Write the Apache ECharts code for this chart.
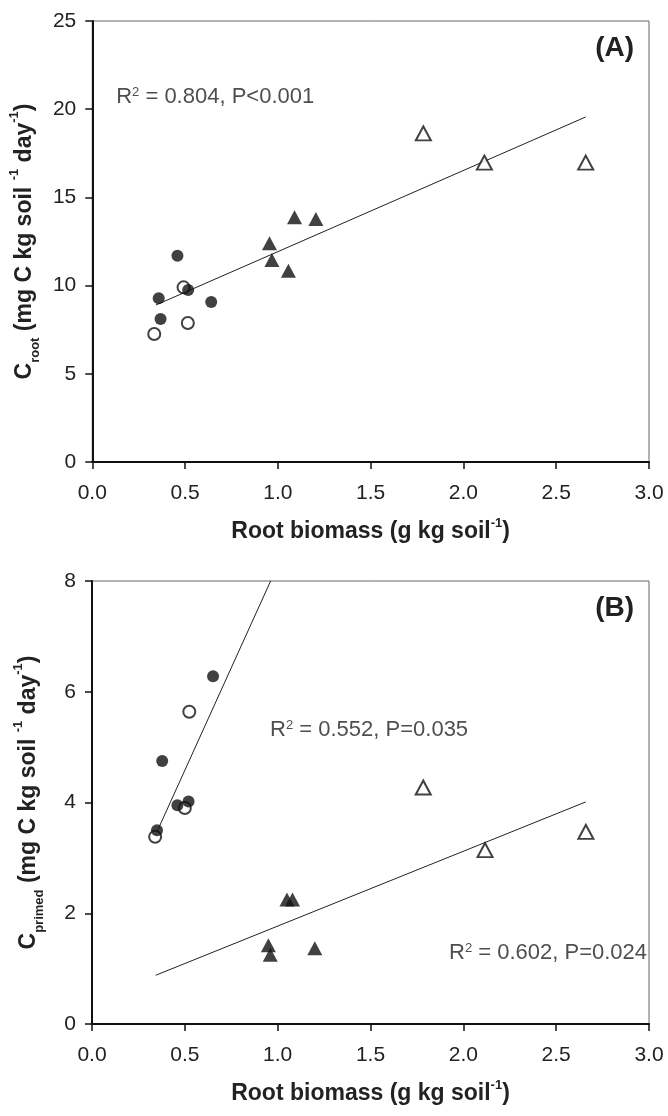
<!DOCTYPE html>
<html>
<head>
<meta charset="utf-8">
<script src="https://cdn.jsdelivr.net/npm/echarts@6/dist/echarts.min.js"></script>
<style>
body{margin:0;background:#fff}
#main{width:668px;height:1116px}
</style>
</head>
<body>
<div id="main"></div>
<script>
// ---- panel A : C root ----
var aOpenCircleX=[0.334,0.492,0.515], aOpenCircleY=[7.26,9.90,7.88];
var aFillCircleX=[0.358,0.368,0.459,0.517,0.641], aFillCircleY=[9.28,8.11,11.69,9.75,9.07];
var aFillTriX=[0.955,0.968,1.057,1.090,1.205], aFillTriY=[12.40,11.45,10.84,13.87,13.78];
var aOpenTriX=[1.784,2.113,2.659], aOpenTriY=[18.63,16.97,16.97];
var aFitX=[0.343,2.659], aFitY=[8.90,19.56];
// ---- panel B : C primed ----
var bOpenCircleX=[0.340,0.500,0.524], bOpenCircleY=[3.38,3.90,5.64];
var bFillCircleX=[0.350,0.378,0.460,0.520,0.652], bFillCircleY=[3.50,4.75,3.95,4.02,6.28];
var bFillTriX=[0.950,0.960,1.050,1.080,1.200], bFillTriY=[1.42,1.25,2.25,2.25,1.37];
var bOpenTriX=[1.784,2.117,2.660], bOpenTriY=[4.27,3.14,3.47];
var bFit1X=[0.343,0.962], bFit1Y=[3.42,8.00];
var bFit2X=[0.343,2.659], bFit2Y=[0.88,4.01];
// axis ticks
var xTicks=[0,3,0.5];
var aTicks=[0,25,5];
var bTicks=[0,8,2];
// annotations
var aNote={x:0.129,y:20.7,r2:'0.804',p:'P<0.001'};
var bNote1={x:0.959,y:5.31,r2:'0.552',p:'P=0.035'};
var bNote2={x:1.923,y:1.28,r2:'0.602',p:'P=0.024'};

var FONT='"Liberation Sans", Arial, sans-serif';
var INK='#222';

function zip(xs,ys){
    var out=[];
    for(var i=0;i<xs.length;i++){out.push([xs[i],ys[i]])}
    return out;
}
function xAxisCfg(idx){
    return {
        gridIndex:idx,type:'value',min:xTicks[0],max:xTicks[1],interval:xTicks[2],
        axisLine:{show:true,onZero:false,lineStyle:{color:'#111',width:2}},
        axisTick:{show:true,inside:false,length:7,lineStyle:{color:'#111',width:1.5}},
        axisLabel:{show:true,margin:21,fontSize:21,color:INK,fontFamily:FONT,
            formatter:function(v){return v.toFixed(1)}},
        splitLine:{show:false},
        name:'{b|Root biomass (g kg soil}{s|-1}{b|)}',
        nameLocation:'middle',nameGap:55,
        nameTextStyle:{rich:{
            b:{fontSize:23,fontWeight:'bold',fontFamily:FONT,color:INK,lineHeight:30,verticalAlign:'middle'},
            s:{fontSize:13,fontWeight:'bold',fontFamily:FONT,color:INK,lineHeight:13,verticalAlign:'top'}
        }}
    }
}
function yAxisCfg(idx,t,sub){
    return {
        gridIndex:idx,type:'value',min:t[0],max:t[1],interval:t[2],
        axisLine:{show:true,onZero:false,lineStyle:{color:'#111',width:2}},
        axisTick:{show:true,inside:false,length:7,lineStyle:{color:'#111',width:1.5}},
        axisLabel:{show:true,margin:16,fontSize:21,color:INK,fontFamily:FONT},
        splitLine:{show:false},
        name:'{b|C}{d|'+sub+'}{b| (mg C kg soil }{s|-1}{b| day}{s|-1}{b|)}',
        nameLocation:'middle',nameRotate:90,nameGap:46,
        nameTextStyle:{rich:{
            b:{fontSize:23,fontWeight:'bold',fontFamily:FONT,color:INK,lineHeight:34,verticalAlign:'middle'},
            d:{fontSize:13,fontWeight:'bold',fontFamily:FONT,color:INK,lineHeight:13,verticalAlign:'bottom'},
            s:{fontSize:13,fontWeight:'bold',fontFamily:FONT,color:INK,lineHeight:13,verticalAlign:'top'}
        }}
    }
}
function pts(name,idx,data,symbol,size,open){
    return {
        name:name,type:'scatter',xAxisIndex:idx,yAxisIndex:idx,data:data,
        symbol:symbol,symbolSize:size,
        itemStyle:open?{color:'#fff',borderColor:'#111',borderWidth:2}:{color:'#111',borderColor:'#111',borderWidth:0},
        z:5
    }
}
function fit(idx,xs,ys){
    return {
        type:'line',xAxisIndex:idx,yAxisIndex:idx,data:zip(xs,ys),
        symbol:'none',showSymbol:false,silent:true,
        lineStyle:{color:'#222',width:1},z:3
    }
}
function note(idx,n){
    return {
        type:'scatter',xAxisIndex:idx,yAxisIndex:idx,data:[[n.x,n.y]],
        symbolSize:0,silent:true,
        label:{show:true,position:'right',distance:0,
            formatter:'{a|R}{s|2}{a| = '+n.r2+', '+n.p+'}',
            rich:{
                a:{fontSize:22,fontFamily:FONT,color:INK,lineHeight:28,verticalAlign:'middle'},
                s:{fontSize:13,fontFamily:FONT,color:INK,lineHeight:13,verticalAlign:'top',padding:[3,0,0,0]}
            }}
    }
}

var myChart=echarts.init(document.getElementById('main'));
var option={
    animation:false,
    backgroundColor:'#fff',
    grid:[
        {left:92,top:21,width:557,height:441,show:true,borderColor:'#666',borderWidth:1,backgroundColor:'transparent'},
        {left:92,top:581,width:557,height:443,show:true,borderColor:'#666',borderWidth:1,backgroundColor:'transparent'}
    ],
    xAxis:[xAxisCfg(0),xAxisCfg(1)],
    yAxis:[yAxisCfg(0,aTicks,'root'),yAxisCfg(1,bTicks,'primed')],
    graphic:[
        {type:'text',right:34,top:34,style:{text:'(A)',font:'bold 28px '+FONT,fill:INK}},
        {type:'text',right:34,top:594,style:{text:'(B)',font:'bold 28px '+FONT,fill:INK}}
    ],
    series:[
        fit(0,aFitX,aFitY),
        pts('open circle',0,zip(aOpenCircleX,aOpenCircleY),'circle',12,true),
        pts('filled circle',0,zip(aFillCircleX,aFillCircleY),'circle',12,false),
        pts('filled triangle',0,zip(aFillTriX,aFillTriY),'triangle',[15,14],false),
        pts('open triangle',0,zip(aOpenTriX,aOpenTriY),'triangle',[15,14],true),
        note(0,aNote),
        fit(1,bFit1X,bFit1Y),
        fit(1,bFit2X,bFit2Y),
        pts('open circle',1,zip(bOpenCircleX,bOpenCircleY),'circle',12,true),
        pts('filled circle',1,zip(bFillCircleX,bFillCircleY),'circle',12,false),
        pts('filled triangle',1,zip(bFillTriX,bFillTriY),'triangle',[15,14],false),
        pts('open triangle',1,zip(bOpenTriX,bOpenTriY),'triangle',[15,14],true),
        note(1,bNote1),
        note(1,bNote2)
    ]
};
myChart.setOption(option);
</script>
</body>
</html>
